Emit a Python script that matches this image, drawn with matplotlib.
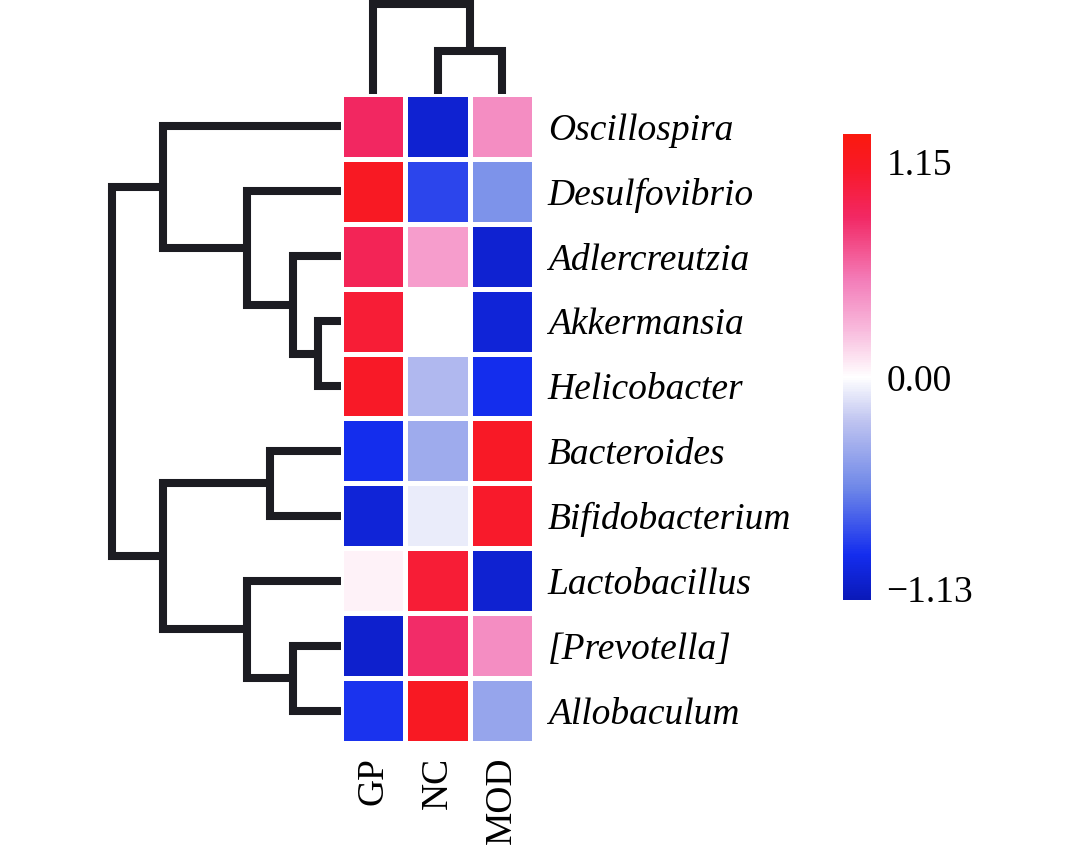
import numpy as np
import matplotlib
matplotlib.use("Agg")
import matplotlib.pyplot as plt
from matplotlib.colors import LinearSegmentedColormap, Normalize

# ---------------- data ----------------
genera = ["Oscillospira", "Desulfovibrio", "Adlercreutzia", "Akkermansia",
          "Helicobacter", "Bacteroides", "Bifidobacterium", "Lactobacillus",
          "[Prevotella]", "Allobaculum"]
groups = ["GP", "NC", "MOD"]
gp_vals  = [0.87, 1.15, 0.92, 1.05, 1.12, -0.95, -1.05, 0.05, -1.10, -0.92]
nc_vals  = [-1.08, -0.85, 0.38, 0.00, -0.30, -0.38, -0.08, 1.05, 0.84, 1.15]
mod_vals = [0.45, -0.52, -1.08, -1.05, -0.95, 1.13, 1.10, -1.08, 0.45, -0.42]
cbar_ticks = [-1.13, 0.00, 1.15]

# row linkage (children ids, merge height); leaves 0..9, new nodes 10..
row_left   = [3, 2, 1, 0, 5, 8, 7, 14, 13]
row_right  = [4, 10, 11, 12, 6, 9, 15, 16, 17]
row_height = [0.23, 0.48, 0.94, 1.78, 0.71, 0.48, 0.94, 1.78, 2.29]
# column linkage; leaves 0..2, new nodes 3..
col_left   = [1, 0]
col_right  = [2, 3]
col_height = [0.43, 0.90]

# ---------------- figure ----------------
W, H = 1080, 850
fig = plt.figure(figsize=(W / 100, H / 100), dpi=100)
fig.patch.set_facecolor("white")

def fx(px):
    return px / W

def fy(px):
    return 1 - px / H

hm_l, hm_r, hm_t, hm_b = 341, 534, 94, 743
line_c = "#1c1c22"
lw = 5.8

vmin, vmax = -1.19, 1.30
norm = Normalize(vmin=vmin, vmax=vmax)

def vpos(frac):
    # frac in [-1, 1]: fraction of vmin (negative) or vmax (positive)
    v = frac * (-vmin if frac < 0 else vmax)
    return (v - vmin) / (vmax - vmin)

stops = [
    (-1.00, (10, 25, 185)),
    (-0.80, (20, 45, 238)),
    (-0.50, (110, 135, 232)),
    (-0.20, (190, 195, 240)),
    (0.00, (255, 255, 255)),
    (0.20, (248, 185, 220)),
    (0.40, (243, 125, 185)),
    (0.66, (242, 40, 100)),
    (0.86, (248, 25, 40)),
    (1.00, (250, 25, 15)),
]
cmap = LinearSegmentedColormap.from_list(
    "bwr_pink", [(vpos(f), tuple(c / 255 for c in rgb)) for f, rgb in stops])

data = np.column_stack([gp_vals, nc_vals, mod_vals])
nrow, ncol = data.shape

# heatmap
ax = fig.add_axes([fx(hm_l), fy(hm_b), fx(hm_r - hm_l), (hm_b - hm_t) / H])
ax.pcolormesh(np.arange(ncol + 1) - 0.5, np.arange(nrow + 1) - 0.5, data,
              cmap=cmap, norm=norm, edgecolors="white", linewidth=2.2)
ax.set_xlim(-0.5, ncol - 0.5)
ax.set_ylim(nrow - 0.5, -0.5)
for s in ax.spines.values():
    s.set_visible(False)
ax.set_yticks(range(nrow))
ax.set_yticklabels(genera, fontfamily="Liberation Serif", fontstyle="italic",
                   fontsize=27)
ax.yaxis.tick_right()
ax.tick_params(axis="y", length=0, pad=10)
ax.set_xticks(range(ncol))
ax.set_xticklabels(groups, fontfamily="Liberation Serif", fontsize=27,
                   rotation=90)
ax.tick_params(axis="x", length=0, pad=10)

# dendrograms
def dendro_positions(n, left, right):
    pos = {i: float(i) for i in range(n)}
    for k, (a, b) in enumerate(zip(left, right)):
        pos[n + k] = (pos[a] + pos[b]) / 2
    return pos

axr = fig.add_axes([fx(101), fy(hm_b), fx(hm_l - 101), (hm_b - hm_t) / H])
axr.set_xlim(2.40, 0)
axr.set_ylim(nrow - 0.5, -0.5)
axr.axis("off")
rpos = dendro_positions(nrow, row_left, row_right)
rh = {i: 0.0 for i in range(nrow)}
for k, (a, b, h) in enumerate(zip(row_left, row_right, row_height)):
    rh[nrow + k] = h
    axr.plot([rh[a], h, h, rh[b]], [rpos[a], rpos[a], rpos[b], rpos[b]],
             color=line_c, lw=lw, solid_joinstyle="miter",
             solid_capstyle="butt", clip_on=False)

axc = fig.add_axes([fx(hm_l), fy(hm_t), fx(hm_r - hm_l), hm_t / H])
axc.set_xlim(-0.5, ncol - 0.5)
axc.set_ylim(0, 0.94)
axc.axis("off")
cpos = dendro_positions(ncol, col_left, col_right)
ch = {i: 0.0 for i in range(ncol)}
for k, (a, b, h) in enumerate(zip(col_left, col_right, col_height)):
    ch[ncol + k] = h
    axc.plot([cpos[a], cpos[a], cpos[b], cpos[b]], [ch[a], h, h, ch[b]],
             color=line_c, lw=lw, solid_joinstyle="miter",
             solid_capstyle="butt", clip_on=False)

# colorbar
cax = fig.add_axes([fx(843), fy(600), fx(871 - 843), (600 - 134) / H])
cb = fig.colorbar(plt.cm.ScalarMappable(norm=norm, cmap=cmap), cax=cax)
cb.outline.set_visible(False)
cb.set_ticks(cbar_ticks)
cb.set_ticklabels([f"{t:.2f}".replace("-", "\u2212") for t in cbar_ticks])
cax.tick_params(length=0, pad=11)
for lab in cax.get_yticklabels():
    lab.set_fontfamily("Liberation Serif")
    lab.set_fontsize(27)
cax.yaxis.set_ticks_position("right")

fig.savefig("out.png", dpi=100, facecolor="white")
